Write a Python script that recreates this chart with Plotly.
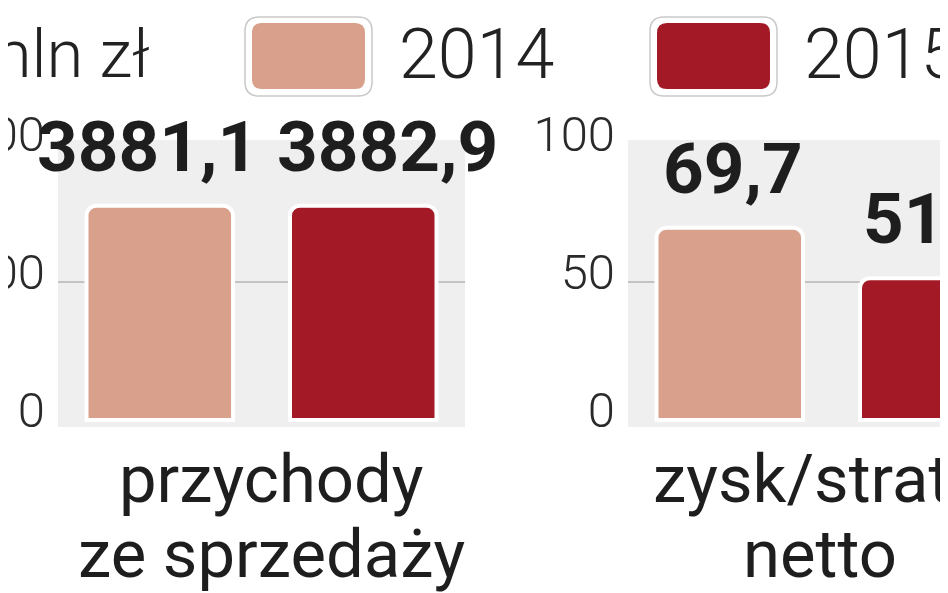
import plotly.graph_objects as go

# ---- data ----
categories = [["przychody", "ze sprzedaży"], ["zysk/strata", "netto"]]
series_names = ["2014", "2015"]
values_2014 = [3881.1, 69.7]
values_2015 = [3882.9, 51.4]
tick_values = [[0, 2500, 5000], [0, 50, 100]]
unit_label = "mln zł"

colors = {"2014": "#d9a08b", "2015": "#a31a26"}

W, H = 948, 593
OFF = 8  # page body margin
def px(x):
    return (x - OFF) / W
def py(y):
    return 1 - (y - OFF) / H

fig = go.Figure()

x_domains = [[px(58), px(465)], [px(628), 1.0]]
y_domain = [py(427), py(140)]
right_w = W - (628 - OFF)
x_ranges = [[-0.5, 1.5], [-0.5, -0.5 + right_w / 203.5]]
y_ranges = [[-126.8, 5072.5], [-2.536, 101.45]]

series_vals = {"2014": values_2014, "2015": values_2015}

for p in range(2):
    xa = "x" if p == 0 else "x2"
    ya = "y" if p == 0 else "y2"
    for i, s in enumerate(series_names):
        fig.add_trace(go.Bar(
            x=[i], y=[series_vals[s][p]], xaxis=xa, yaxis=ya,
            width=0.72, name=s, showlegend=False,
            marker=dict(color=colors[s], line=dict(color="white", width=4)),
        ))

layout_axes = {}
for p in range(2):
    sfx = "" if p == 0 else "2"
    layout_axes["xaxis" + sfx] = dict(
        domain=x_domains[p], range=x_ranges[p], visible=False, fixedrange=True,
        anchor="y" + sfx, automargin=False,
    )
    layout_axes["yaxis" + sfx] = dict(
        domain=y_domain, range=y_ranges[p], tickvals=tick_values[p],
        tickformat="d", showgrid=False, zeroline=False, showline=False,
        ticks="", ticklabelstandoff=12, ticklabelshift=-10, automargin=False,
        tickfont=dict(family="Roboto", size=49, color="#2a2a2a", weight=300),
        anchor="x" + sfx,
    )

shapes = []
for p in range(2):
    sfx = "" if p == 0 else "2"
    mid = tick_values[p][1]
    shapes.append(dict(type="line", xref="x" + sfx + " domain", yref="y" + sfx,
                       x0=0, x1=1, y0=mid, y1=mid, layer="below",
                       line=dict(color="#b5b5b5", width=1.5)))

def rounded_rect(x0, y0, x1, y1, r):
    return (f"M {px(x0 + r)},{py(y0)} L {px(x1 - r)},{py(y0)} "
            f"Q {px(x1)},{py(y0)} {px(x1)},{py(y0 + r)} "
            f"L {px(x1)},{py(y1 - r)} Q {px(x1)},{py(y1)} {px(x1 - r)},{py(y1)} "
            f"L {px(x0 + r)},{py(y1)} Q {px(x0)},{py(y1)} {px(x0)},{py(y1 - r)} "
            f"L {px(x0)},{py(y0 + r)} Q {px(x0)},{py(y0)} {px(x0 + r)},{py(y0)} Z")

for s, x0 in zip(series_names, [245, 650]):
    shapes.append(dict(type="path", xref="paper", yref="paper",
                       path=rounded_rect(x0, 17, x0 + 127, 96, 14),
                       fillcolor="white", line=dict(color="#c9c9c9", width=1.5)))
    shapes.append(dict(type="path", xref="paper", yref="paper",
                       path=rounded_rect(x0 + 7, 23, x0 + 120, 89, 10),
                       fillcolor=colors[s], line=dict(width=0)))

annotations = []
for s, x0 in zip(series_names, [397, 802]):
    annotations.append(dict(text=s, xref="paper", yref="paper", x=px(x0), y=py(54),
                            xanchor="left", yanchor="middle", showarrow=False,
                            font=dict(family="Roboto", size=70, color="#222", weight=300)))
annotations.append(dict(text=unit_label, xref="paper", yref="paper", x=px(152), y=py(54),
                        xanchor="right", yanchor="middle", showarrow=False,
                        font=dict(family="Roboto", size=67, color="#222", weight=300)))

label_xshift = [[-12, 24], [3, 0]]
for p in range(2):
    sfx = "" if p == 0 else "2"
    for i, s in enumerate(series_names):
        v = series_vals[s][p]
        annotations.append(dict(
            text=f"{v:.1f}".replace(".", ","), xref="x" + sfx, yref="y" + sfx,
            x=i, y=v, xanchor="center", yanchor="bottom", yshift=16,
            xshift=label_xshift[p][i], showarrow=False,
            font=dict(family="Roboto", size=71, color="#1e1e1e", weight="bold")))

cat_xshift = [10, -12]
for p in range(2):
    sfx = "" if p == 0 else "2"
    for li, line in enumerate(categories[p]):
        annotations.append(dict(
            text=line, xref="x" + sfx, yref="paper", x=0.5,
            y=py(479 + 75 * li), xanchor="center", yanchor="middle",
            xshift=cat_xshift[p], showarrow=False,
            font=dict(family="Roboto", size=67, color="#1e1e1e")))

fig.update_layout(
    template="none",
    width=W, height=H, margin=dict(l=0, r=0, t=0, b=0, pad=0, autoexpand=False),
    paper_bgcolor="white", plot_bgcolor="#efefef",
    barcornerradius=10, showlegend=False,
    shapes=shapes, annotations=annotations,
    separators=",.",
    **layout_axes,
)

fig.write_html("out.html")
